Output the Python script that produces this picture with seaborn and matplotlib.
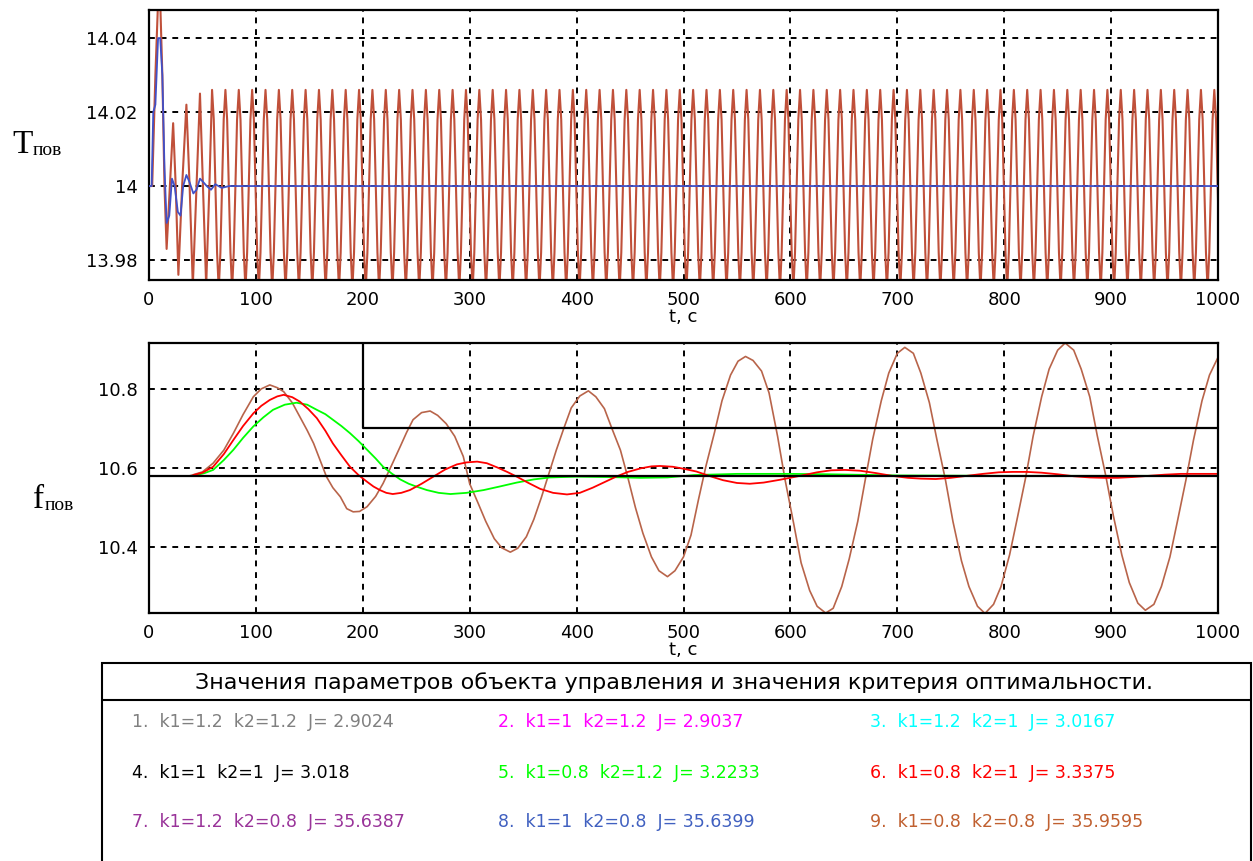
import numpy as np
import matplotlib
matplotlib.use("Agg")
import matplotlib.pyplot as plt
from matplotlib.patches import Rectangle
from matplotlib.lines import Line2D
from matplotlib.ticker import FuncFormatter
import seaborn as sns

sns.set_style("white")
plt.rcParams['font.family'] = ['DejaVu Sans']
plt.rcParams['text.color'] = 'black'
plt.rcParams['axes.labelcolor'] = 'black'

# ---------------- data ----------------
x_ticks = [0, 100, 200, 300, 400, 500, 600, 700, 800, 900, 1000]
top_yticks = [13.98, 14.0, 14.02, 14.04]
bot_yticks = [10.4, 10.6, 10.8]

# top panel, blue curve (case 8)
top_blue_t = [0, 2.5, 4, 6, 8.5, 10.5, 12.5, 14.5, 16.5, 19, 21.5, 24, 27, 29.5, 32, 35, 38,
              41.5, 44.5, 47.7, 51, 54, 58, 62, 68, 75, 1000]
top_blue_v = [14.0, 14.0, 14.02, 14.022, 14.04, 14.04, 14.03, 14.005, 13.99, 13.992, 14.002, 14.0,
              13.993, 13.992, 14.0, 14.003, 14.001, 13.998, 13.999, 14.002, 14.001, 14.0, 13.999,
              14.0005, 13.9995, 14.0, 14.0]

# top panel, brown curve (case 9): start-up part
top_brown_t_head = [0, 3, 6, 8.5, 10.5, 12.5, 14.5, 16.5, 19.5, 22.6, 25, 27.5, 31, 35, 38, 41,
                    44.5, 47.7, 50.5, 53.5, 56.5]
top_brown_v_head = [14.0, 14.0, 14.03, 14.05, 14.05, 14.03, 14.0, 13.983, 14.0, 14.017, 14.0,
                    13.976, 14.0, 14.022, 14.0, 13.973, 14.0, 14.025, 14.0, 13.973, 14.0]
# one steady cycle (offset from its peak) repeated until t = 1000
top_brown_cycle_dt = [0, 1.6, 3.1, 4.7, 6.25, 7.8, 9.4, 10.9]
top_brown_cycle_v = [14.026, 14.018, 14.0, 13.982, 13.972, 13.982, 14.0, 14.018]
top_brown_first_peak = 59
top_brown_period = 12.5
top_brown_cycles = 77

# bottom panel, brown curve (case 9)
bot_brown_t = [38, 50, 60, 70, 79, 88, 97.6, 105, 113, 120, 126, 134, 141, 148, 154, 160, 166, 172,
               179, 185, 191, 197, 204, 212, 219, 227, 235, 241, 247, 255, 263, 270, 278, 286, 294,
               300, 308, 315, 323, 330, 338, 345, 353, 360, 367, 374, 381, 388, 395, 403, 411, 418,
               426, 433, 441, 448, 455, 462, 470, 477, 485, 492, 500, 507, 514, 521, 529, 536, 544,
               551, 558, 565, 573, 580, 588, 595, 603, 610, 618, 625, 633, 640, 648, 655, 663, 670,
               677, 685, 692, 700, 707, 715, 722, 730, 737, 745, 752, 760, 767, 775, 782, 790, 797,
               805, 812, 820, 827, 835, 842, 850, 857, 865, 872, 880, 887, 895, 902, 910, 917, 925,
               932, 940, 947, 955, 962, 970, 977, 985, 992, 1000]
bot_brown_v = [10.58, 10.59, 10.612, 10.645, 10.688, 10.735, 10.78, 10.80, 10.81, 10.803, 10.793,
               10.765, 10.73, 10.695, 10.662, 10.62, 10.578, 10.55, 10.527, 10.497, 10.489, 10.49,
               10.502, 10.528, 10.561, 10.607, 10.654, 10.69, 10.722, 10.74, 10.744, 10.733,
               10.712, 10.68, 10.629, 10.56, 10.51, 10.465, 10.421, 10.398, 10.387, 10.397,
               10.426, 10.47, 10.525, 10.585, 10.645, 10.70, 10.752, 10.782, 10.795, 10.78,
               10.75, 10.70, 10.645, 10.575, 10.50, 10.435, 10.375, 10.34, 10.325, 10.34, 10.375,
               10.43, 10.52, 10.605, 10.69, 10.77, 10.835, 10.87, 10.882, 10.872, 10.845, 10.79,
               10.68, 10.57, 10.46, 10.36, 10.29, 10.25, 10.233, 10.245, 10.30, 10.37, 10.465,
               10.57, 10.673, 10.77, 10.84, 10.89, 10.905, 10.89, 10.84, 10.765, 10.672, 10.57,
               10.465, 10.365, 10.30, 10.25, 10.232, 10.255, 10.30, 10.38, 10.47, 10.575, 10.68,
               10.78, 10.85, 10.898, 10.916, 10.898, 10.85, 10.78, 10.682, 10.58, 10.48, 10.38,
               10.31, 10.258, 10.24, 10.255, 10.30, 10.375, 10.465, 10.57, 10.67, 10.77, 10.835,
               10.88]

# bottom panel, red curve (case 6)
bot_red_t = [41.5, 50, 60, 70, 79, 88, 97.6, 105, 113, 120, 126, 134, 141, 149, 157, 165, 172, 180,
             188, 196, 204, 210, 216, 222, 228, 236, 244, 255, 266, 277, 288, 297, 307, 316, 326,
             335, 344, 355, 366, 378, 391, 403, 415, 426, 437, 448, 460, 470, 478, 490, 500, 512,
             525, 537, 550, 562, 575, 590, 609, 625, 638, 651, 665, 680, 695, 710, 722, 736, 750,
             765, 780, 795, 808, 821, 835, 850, 865, 880, 893, 906, 920, 935, 950, 965, 980, 1000]
bot_red_v = [10.582, 10.588, 10.603, 10.635, 10.671, 10.706, 10.738, 10.757, 10.772, 10.781,
             10.785, 10.779, 10.768, 10.749, 10.726, 10.694, 10.662, 10.632, 10.603, 10.582,
             10.565, 10.553, 10.544, 10.537, 10.534, 10.537, 10.544, 10.56, 10.578, 10.596,
             10.609, 10.614, 10.616, 10.612, 10.601, 10.59, 10.578, 10.562, 10.547, 10.537,
             10.533, 10.537, 10.55, 10.564, 10.578, 10.59, 10.599, 10.604, 10.605, 10.603,
             10.598, 10.591, 10.579, 10.569, 10.562, 10.56, 10.563, 10.57, 10.58, 10.589,
             10.594, 10.595, 10.593, 10.587, 10.58, 10.575, 10.573, 10.572, 10.575, 10.58,
             10.585, 10.589, 10.59, 10.59, 10.588, 10.584, 10.579, 10.576, 10.575, 10.575,
             10.577, 10.58, 10.583, 10.585, 10.585, 10.585]

# bottom panel, green curve (case 5)
bot_green_t = [44.6, 52, 60, 70, 79, 88, 97.6, 107, 116, 127, 138, 148, 157, 165, 172, 180, 188, 196,
               204, 212, 219, 227, 235, 243, 250, 260, 271, 282, 297, 313, 328, 344, 360, 375, 400,
               430, 460, 485, 510, 550, 600, 636, 700, 800, 1000]
bot_green_v = [10.582, 10.587, 10.595, 10.62, 10.646, 10.676, 10.705, 10.728, 10.747, 10.76,
               10.765, 10.76, 10.747, 10.736, 10.722, 10.706, 10.688, 10.668, 10.646, 10.624,
               10.603, 10.586, 10.571, 10.56, 10.553, 10.544, 10.537, 10.534, 10.537, 10.544,
               10.553, 10.563, 10.571, 10.576, 10.578, 10.577, 10.575, 10.576, 10.582, 10.585,
               10.585, 10.584, 10.581, 10.58, 10.58]

# bottom panel, black reference lines
ref_level_t = [0, 1000]
ref_level_v = [10.58, 10.58]
ref_step_t = [0, 200, 200, 1000]
ref_step_v = [11.0, 11.0, 10.7, 10.7]

# parameter table
table_title = "Значения параметров объекта управления и значения критерия оптимальности."
table_rows = [
    "1.  k1=1.2  k2=1.2  J= 2.9024", "2.  k1=1  k2=1.2  J= 2.9037", "3.  k1=1.2  k2=1  J= 3.0167",
    "4.  k1=1  k2=1  J= 3.018", "5.  k1=0.8  k2=1.2  J= 3.2233", "6.  k1=0.8  k2=1  J= 3.3375",
    "7.  k1=1.2  k2=0.8  J= 35.6387", "8.  k1=1  k2=0.8  J= 35.6399", "9.  k1=0.8  k2=0.8  J= 35.9595",
]
table_colors = ["#808080", "#FF00FF", "#00FFFF", "#000000", "#00FF00", "#FF0000",
                "#993399", "#4060C0", "#C06030"]

# build the steady part of the top brown curve from the read cycle
steady_t = []
steady_v = []
for k in range(top_brown_cycles):
    for dt, v in zip(top_brown_cycle_dt, top_brown_cycle_v):
        steady_t.append(top_brown_first_peak + k * top_brown_period + dt)
        steady_v.append(v)
top_brown_t = top_brown_t_head + steady_t
top_brown_v = top_brown_v_head + steady_v

# ---------------- figure ----------------
fig = plt.figure(figsize=(12.53, 8.61), dpi=100)
ax1 = fig.add_axes([0.1189, 0.6748, 0.8532, 0.3136])
ax2 = fig.add_axes([0.1189, 0.2880, 0.8532, 0.3136])


def style_axes(ax, yticks, ylim):
    ax.set_xlim(0, 1000)
    ax.set_ylim(*ylim)
    ax.set_xticks(x_ticks)
    ax.set_yticks(yticks)
    ax.yaxis.set_major_formatter(FuncFormatter(lambda v, p: f"{v:g}"))
    ax.tick_params(length=0, labelsize=13, pad=8, colors='black')
    for s in ax.spines.values():
        s.set_visible(True)
        s.set_color('black')
        s.set_linewidth(1.6)
    # dashed grid, not on the frame
    for x in x_ticks[1:-1]:
        ax.axvline(x, color='black', lw=1.4, ls=(0, (3, 3)), zorder=1)
    for y in yticks:
        ax.axhline(y, color='black', lw=1.4, ls=(0, (3, 3)), zorder=1)
    # the axis name sits right under the "500" label, as in the original
    ax.set_xlabel('t, c', fontsize=13, labelpad=-1)
    ax.set_ylabel('')


# top panel
sns.lineplot(x=top_brown_t, y=top_brown_v, ax=ax1, color='#C0503A', linewidth=1.5,
             estimator=None, sort=False, zorder=2)
sns.lineplot(x=top_blue_t, y=top_blue_v, ax=ax1, color='#4050C8', linewidth=1.3,
             estimator=None, sort=False, zorder=3)
style_axes(ax1, top_yticks, (13.9746, 14.0476))

# bottom panel
sns.lineplot(x=bot_brown_t, y=bot_brown_v, ax=ax2, color='#B8644A', linewidth=1.2,
             estimator=None, sort=False, zorder=2)
sns.lineplot(x=bot_green_t, y=bot_green_v, ax=ax2, color='#00FF00', linewidth=1.3,
             estimator=None, sort=False, zorder=2)
sns.lineplot(x=bot_red_t, y=bot_red_v, ax=ax2, color='#FF0000', linewidth=1.3,
             estimator=None, sort=False, zorder=2)
sns.lineplot(x=ref_level_t, y=ref_level_v, ax=ax2, color='black', linewidth=1.6,
             estimator=None, sort=False, zorder=3)
sns.lineplot(x=ref_step_t, y=ref_step_v, ax=ax2, color='black', linewidth=1.6,
             estimator=None, sort=False, zorder=3)
style_axes(ax2, bot_yticks, (10.233, 10.916))

# y labels (letter + subscript)
ax1.text(-0.128, 0.470, 'T', transform=ax1.transAxes, fontsize=24,
         family='Liberation Serif', va='baseline', ha='left')
ax1.text(-0.1085, 0.463, 'пов', transform=ax1.transAxes, fontsize=14,
         family='Liberation Serif', va='baseline', ha='left')
ax2.text(-0.1085, 0.389, 'f', transform=ax2.transAxes, fontsize=24,
         family='Liberation Serif', va='baseline', ha='left')
ax2.text(-0.0973, 0.381, 'пов', transform=ax2.transAxes, fontsize=14,
         family='Liberation Serif', va='baseline', ha='left')

# parameter table box
bx0 = 102 / 1253
bx1 = 1251 / 1253
fig.add_artist(Rectangle((bx0, -0.01), bx1 - bx0, 0.240, transform=fig.transFigure,
                         fill=False, edgecolor='black', linewidth=1.5))
fig.add_artist(Line2D([bx0, bx1], [0.187, 0.187], transform=fig.transFigure,
                      color='black', linewidth=1.5))
fig.text(0.5383, 0.2067, table_title, ha='center', va='center', fontsize=16)

col_x = [0.1053, 0.3974, 0.6943]
row_y = [0.1614, 0.1022, 0.0453]
for i, (label, c) in enumerate(zip(table_rows, table_colors)):
    fig.text(col_x[i % 3], row_y[i // 3], label, color=c, fontsize=12.5,
             ha='left', va='center')

fig.savefig('out.png', dpi=100)
